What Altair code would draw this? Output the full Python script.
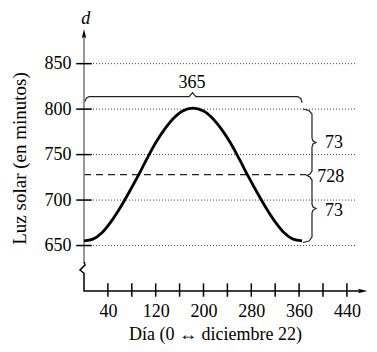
import altair as alt
import pandas as pd

# ---- data ----
days = [0, 15, 30, 45, 60, 75, 90, 105, 120, 135, 150, 165, 182,
        200, 215, 230, 245, 260, 275, 290, 305, 320, 335, 350, 365]
minutes = [655, 657, 664, 676, 691, 708, 726, 745, 763, 778, 790, 798, 801,
           798, 790, 778, 763, 745, 726, 708, 691, 676, 664, 657, 655]
y_ticks = [650, 700, 750, 800, 850]
x_ticks = [40, 80, 120, 160, 200, 240, 280, 320, 360, 400, 440]
x_labels = [40, 120, 200, 280, 360, 440]
mean_minutes = 728
amplitude = 73
period = 365

FONT = "Liberation Serif"
xs = alt.Scale(domain=[0, 472], nice=False, zero=False)
ys = alt.Scale(domain=[600, 887], nice=False, zero=False)

X_AXIS = alt.Axis(
    values=x_labels, domain=False, ticks=False, tickSize=0, grid=False,
    labelFont=FONT, labelFontSize=18, labelColor="black", labelPadding=11,
    labelFlush=False, labelOverlap=False,
    title="Día (0 ↔ diciembre 22)", titleFont=FONT, titleFontSize=18,
    titleFontWeight="normal", titleColor="black",
    titleX=131, titleY=43, titleBaseline="middle", titleAlign="center")
Y_AXIS = alt.Axis(
    values=y_ticks, domain=False, ticks=False, tickSize=0, grid=False,
    labelFont=FONT, labelFontSize=18, labelColor="black", labelPadding=13,
    labelOverlap=False, labelFlush=False,
    title="Luz solar (en minutos)", titleFont=FONT, titleFontSize=19,
    titleFontWeight="normal", titleColor="black", titleAngle=-90,
    titleX=-65, titleY=128, titleBaseline="middle", titleAlign="center")


def X(f):
    return alt.X(f, scale=xs, axis=X_AXIS, title="Día (0 ↔ diciembre 22)")


def Y(f):
    return alt.Y(f, scale=ys, axis=Y_AXIS, title="Luz solar (en minutos)")


# curve
curve_df = pd.DataFrame({"day": days, "min": minutes})
curve = alt.Chart(curve_df).mark_line(
    color="black", strokeWidth=2.8, interpolate="monotone"
).encode(x=X("day:Q"), y=Y("min:Q"))

# dotted gridlines
grid_df = pd.DataFrame({"v": y_ticks, "x0": 0, "x1": 455})
grid = alt.Chart(grid_df).mark_rule(
    color="#444", strokeWidth=1, strokeDash=[1, 2]
).encode(x=X("x0:Q"), x2="x1:Q", y=Y("v:Q"))

# dashed mean line
mean_df = pd.DataFrame({"v": [mean_minutes], "x0": [0], "x1": [372]})
mean_line = alt.Chart(mean_df).mark_rule(
    color="#222", strokeWidth=1.3, strokeDash=[7, 5]
).encode(x=X("x0:Q"), x2="x1:Q", y=Y("v:Q"))

# y axis ticks (crossing)
yt_df = pd.DataFrame({"v": y_ticks, "x0": -13, "x1": 13})
ytick = alt.Chart(yt_df).mark_rule(color="black", strokeWidth=1.5).encode(
    x=X("x0:Q"), x2="x1:Q", y=Y("v:Q"))

# x axis ticks (crossing)
xt_df = pd.DataFrame({"d": x_ticks, "y0": 608.4, "y1": 593.7})
xtick = alt.Chart(xt_df).mark_rule(color="black", strokeWidth=1.5).encode(
    x=X("d:Q"), y=Y("y0:Q"), y2="y1:Q")

# y axis line (upper, grey) and broken lower part + x axis line
yaxis_up_df = pd.DataFrame({"x": [0, 0], "y": [882, 632.2], "o": [0, 1]})
yaxis_up = alt.Chart(yaxis_up_df).mark_line(color="#777", strokeWidth=1.5).encode(
    x=X("x:Q"), y=Y("y:Q"), order="o:Q")
yaxis_lo_df = pd.DataFrame({
    "x": [0, 1.7, -6.7, 0, 0, 466],
    "y": [632.2, 628.6, 623.1, 619.5, 600, 600],
    "o": [0, 1, 2, 3, 4, 5]})
yaxis_lo = alt.Chart(yaxis_lo_df).mark_line(color="black", strokeWidth=1.5).encode(
    x=X("x:Q"), y=Y("y:Q"), order="o:Q")

# arrow heads
up_df = pd.DataFrame({"x": [0], "y": [882.5]})
up_arrow = alt.Chart(up_df).mark_point(
    shape="M0,-1L0.45,0.9L0,0.5L-0.45,0.9Z", size=100, filled=True,
    color="black", opacity=1).encode(x=X("x:Q"), y=Y("y:Q"))
right_df = pd.DataFrame({"x": [466], "y": [600]})
right_arrow = alt.Chart(right_df).mark_point(
    shape="M1,0L-0.9,-0.45L-0.5,0L-0.9,0.45Z", size=100, filled=True,
    color="black", opacity=1).encode(x=X("x:Q"), y=Y("y:Q"))

# "d" label
d_df = pd.DataFrame({"x": [3], "y": [899], "t": ["d"]})
d_label = alt.Chart(d_df).mark_text(
    font=FONT, fontSize=18, fontStyle="italic", color="black",
    align="center", baseline="middle").encode(x=X("x:Q"), y=Y("y:Q"), text="t:N")

# horizontal brace (period)
bt_x = [1.5, 4, 8.5, 176, 181.6, 187.2, 358, 363, 365]
bt_y = [808.5, 812, 813.8, 813.8, 818.2, 813.8, 813.8, 811.5, 807]
bt_df = pd.DataFrame({"x": bt_x, "y": bt_y, "o": list(range(len(bt_x)))})
brace_top = alt.Chart(bt_df).mark_line(color="#222", strokeWidth=1.2).encode(
    x=X("x:Q"), y=Y("y:Q"), order="o:Q")

# vertical brace (amplitude)
br_x = [366.5, 376.6, 381.6, 381.6, 383.3, 388.3, 383.3, 381.6, 381.6, 378.2,
        373.2, 378.2, 381.6, 381.6, 383.3, 388.3, 383.3, 381.6, 381.6, 376.6, 366.5]
br_y = [800.1, 798.4, 794.6, 768.2, 764.9, 763.3, 761.6, 758.3, 731.9, 728.6,
        727, 725.3, 722, 695.6, 692.3, 690.7, 689, 685.7, 659.3, 654.9, 653.3]
br_df = pd.DataFrame({"x": br_x, "y": br_y, "o": list(range(len(br_x)))})
brace_right = alt.Chart(br_df).mark_line(color="#222", strokeWidth=1.2).encode(
    x=X("x:Q"), y=Y("y:Q"), order="o:Q")

# annotation texts
ann_df = pd.DataFrame({
    "x": [180.7, 403.3, 390.5, 403.3],
    "y": [828.7, 762.2, 725.6, 688.5],
    "t": [str(period), str(amplitude), str(mean_minutes), str(amplitude)]})
ann_center = alt.Chart(ann_df.iloc[:1]).mark_text(
    font=FONT, fontSize=18, color="black", align="center", baseline="middle"
).encode(x=X("x:Q"), y=Y("y:Q"), text="t:N")
ann_left = alt.Chart(ann_df.iloc[1:]).mark_text(
    font=FONT, fontSize=18, color="black", align="left", baseline="middle"
).encode(x=X("x:Q"), y=Y("y:Q"), text="t:N")

chart = alt.layer(
    grid, mean_line, yaxis_up, yaxis_lo, ytick, xtick, up_arrow, right_arrow,
    brace_top, brace_right, curve, d_label, ann_center, ann_left
).properties(
    width=282, height=261,
    padding={"left": 76, "top": 22, "right": 3, "bottom": 53},
    autosize=alt.AutoSizeParams(type="none"),
).configure_view(stroke=None)

chart.save("out.html", embed_options={"renderer": "svg", "actions": False})
